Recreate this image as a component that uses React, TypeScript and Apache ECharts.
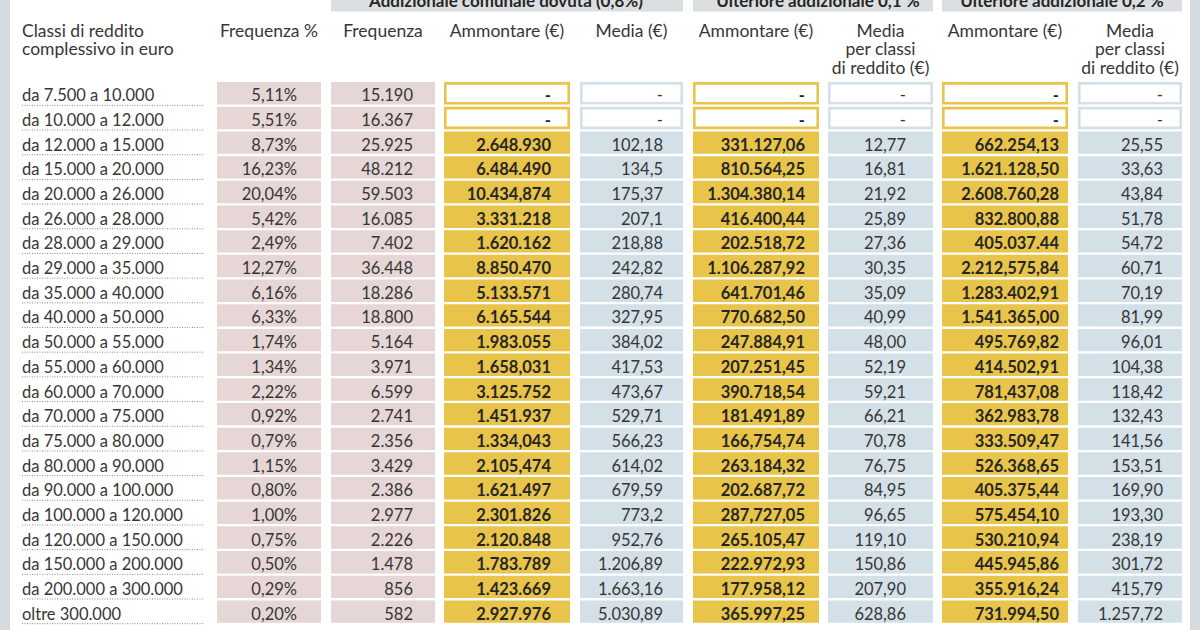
import React, { useEffect, useRef } from "react";
import * as echarts from "echarts";

const classes = [
  "da 7.500 a 10.000", "da 10.000 a 12.000", "da 12.000 a 15.000", "da 15.000 a 20.000",
  "da 20.000 a 26.000", "da 26.000 a 28.000", "da 28.000 a 29.000", "da 29.000 a 35.000",
  "da 35.000 a 40.000", "da 40.000 a 50.000", "da 50.000 a 55.000", "da 55.000 a 60.000",
  "da 60.000 a 70.000", "da 70.000 a 75.000", "da 75.000 a 80.000", "da 80.000 a 90.000",
  "da 90.000 a 100.000", "da 100.000 a 120.000", "da 120.000 a 150.000", "da 150.000 a 200.000",
  "da 200.000 a 300.000", "oltre 300.000",
];
const freqPct = ["5,11%", "5,51%", "8,73%", "16,23%", "20,04%", "5,42%", "2,49%", "12,27%", "6,16%", "6,33%", "1,74%", "1,34%", "2,22%", "0,92%", "0,79%", "1,15%", "0,80%", "1,00%", "0,75%", "0,50%", "0,29%", "0,20%"];
const freq = ["15.190", "16.367", "25.925", "48.212", "59.503", "16.085", "7.402", "36.448", "18.286", "18.800", "5.164", "3.971", "6.599", "2.741", "2.356", "3.429", "2.386", "2.977", "2.226", "1.478", "856", "582"];
const amm08 = ["-", "-", "2.648.930", "6.484.490", "10.434,874", "3.331.218", "1.620.162", "8.850.470", "5.133.571", "6.165.544", "1.983.055", "1.658,031", "3.125.752", "1.451.937", "1.334,043", "2.105,474", "1.621.497", "2.301.826", "2.120.848", "1.783.789", "1.423.669", "2.927.976"];
const media08 = ["-", "-", "102,18", "134,5", "175,37", "207,1", "218,88", "242,82", "280,74", "327,95", "384,02", "417,53", "473,67", "529,71", "566,23", "614,02", "679,59", "773,2", "952,76", "1.206,89", "1.663,16", "5.030,89"];
const amm01 = ["-", "-", "331.127,06", "810.564,25", "1.304.380,14", "416.400,44", "202.518,72", "1.106.287,92", "641.701,46", "770.682,50", "247.884,91", "207.251,45", "390.718,54", "181.491,89", "166,754,74", "263.184,32", "202.687,72", "287,727,05", "265.105,47", "222.972,93", "177.958,12", "365.997,25"];
const media01 = ["-", "-", "12,77", "16,81", "21,92", "25,89", "27,36", "30,35", "35,09", "40,99", "48,00", "52,19", "59,21", "66,21", "70,78", "76,75", "84,95", "96,65", "119,10", "150,86", "207,90", "628,86"];
const amm02 = ["-", "-", "662.254,13", "1.621.128,50", "2.608.760,28", "832.800,88", "405.037.44", "2.212,575,84", "1.283.402,91", "1.541.365,00", "495.769,82", "414.502,91", "781,437,08", "362.983,78", "333.509,47", "526.368,65", "405.375,44", "575.454,10", "530.210,94", "445.945,86", "355.916,24", "731.994,50"];
const media02 = ["-", "-", "25,55", "33,63", "43,84", "51,78", "54,72", "60,71", "70,19", "81,99", "96,01", "104,38", "118,42", "132,43", "141,56", "153,51", "169,90", "193,30", "238,19", "301,72", "415,79", "1.257,72"];

const headerLabel = ["Classi di reddito", "complessivo in euro"];
const columnHeaders = [
  ["Frequenza %"],
  ["Frequenza"],
  ["Ammontare (€)"],
  ["Media (€)"],
  ["Ammontare (€)"],
  ["Media", "per classi", "di reddito (€)"],
  ["Ammontare (€)"],
  ["Media", "per classi", "di reddito (€)"],
];
const groupHeaders = ["Addizionale comunale dovuta (0,8%)", "Ulteriore addizionale 0,1 %", "Ulteriore addizionale 0,2 %"];

// layout / style
const FONT = "Lato, 'Open Sans', sans-serif";
const TEXT = "#363636";
const PINK = "#e6d6d6";
const YELLOW = "#e8c44a";
const BLUE = "#d4e0e8";
const STRIP = "#d5dbdf";
const HEAD = "#dcdfe1";
const DATA_SIZE = 16.5;
const HEAD_SIZE = 17.5;
const HEAD_LINE = 18.5;
const HEAD_FIRST_Y = 30;

const columns = [
  { values: freqPct, x0: 217, x1: 321, tx: 297, fill: PINK, bold: false },
  { values: freq, x0: 331, x1: 435, tx: 413, fill: PINK, bold: false },
  { values: amm08, x0: 444, x1: 570, tx: 551, fill: YELLOW, bold: true },
  { values: media08, x0: 580, x1: 683, tx: 663, fill: BLUE, bold: false },
  { values: amm01, x0: 693, x1: 819, tx: 805, fill: YELLOW, bold: true },
  { values: media01, x0: 828, x1: 933, tx: 906, fill: BLUE, bold: false },
  { values: amm02, x0: 942, x1: 1068, tx: 1059, fill: YELLOW, bold: true },
  { values: media02, x0: 1078, x1: 1182, tx: 1163, fill: BLUE, bold: false },
];
const groups = [
  { x0: 331, x1: 683, cx: 506 },
  { x0: 693, x1: 933, cx: 818 },
  { x0: 942, x1: 1182, cx: 1062 },
];

export default function App() {
  const ref = useRef<HTMLDivElement>(null);
  useEffect(() => {
    if (!ref.current) return;
    const chart = echarts.init(ref.current, null, { renderer: "svg" });

    const colSeries = columns.map((col) => ({
      type: "custom",
      data: col.values.map((_, i) => [col.x0, i]),
      renderItem: (params: any, api: any) => {
        const row = api.value(1);
        const [xl, yc] = api.coord([col.x0, row]);
        const [xr] = api.coord([col.x1, row]);
        const [xt] = api.coord([col.tx, row]);
        const band = api.size([0, 1])[1];
        const top = yc - band / 2 + 0.6;
        const h = band - 2.3;
        const txt = col.values[params.dataIndex];
        const empty = txt === "-";
        const inset = empty && col.fill !== PINK ? 1.3 : 0;
        return {
          type: "group",
          children: [
            {
              type: "rect",
              shape: { x: xl + inset, y: top + inset, width: xr - xl - 2 * inset, height: h - 2 * inset },
              style: empty && col.fill !== PINK
                ? { fill: "#ffffff", stroke: col.fill, lineWidth: 2.6 }
                : { fill: col.fill },
            },
            {
              type: "text",
              style: {
                text: txt,
                x: xt,
                y: yc + 1.5,
                align: "right",
                verticalAlign: "middle",
                fill: col.bold ? "#262626" : TEXT,
                font: `${col.bold ? "bold " : ""}${DATA_SIZE}px ${FONT}`,
              },
            },
          ],
        };
      },
    }));

    const labelSeries = {
      type: "custom",
      data: classes.map((_, i) => [22, i]),
      renderItem: (params: any, api: any) => {
        const row = api.value(1);
        const [xl, yc] = api.coord([22, row]);
        const [xr] = api.coord([203, row]);
        const band = api.size([0, 1])[1];
        const bottom = yc + band / 2 - 0.8;
        return {
          type: "group",
          children: [
            {
              type: "line",
              shape: { x1: xl, y1: bottom, x2: xr, y2: bottom },
              style: { stroke: "#8c8c8c", lineWidth: 1, lineDash: [1, 1.5] },
            },
            {
              type: "text",
              style: {
                text: classes[params.dataIndex],
                x: xl,
                y: yc + 1.5,
                align: "left",
                verticalAlign: "middle",
                fill: TEXT,
                font: `${DATA_SIZE}px ${FONT}`,
              },
            },
          ],
        };
      },
    };

    const graphics: any[] = [
      { type: "rect", shape: { x: 0, y: 0, width: 10, height: 630 }, style: { fill: STRIP } },
      { type: "rect", shape: { x: 1190, y: 0, width: 10, height: 630 }, style: { fill: STRIP } },
    ];
    groups.forEach((g, i) => {
      graphics.push({ type: "rect", shape: { x: g.x0, y: 0, width: g.x1 - g.x0, height: 11.5 }, style: { fill: HEAD } });
      graphics.push({
        type: "text",
        style: {
          text: groupHeaders[i],
          x: g.cx,
          y: 8.5,
          align: "center",
          verticalAlign: "bottom",
          fill: "#262626",
          font: `bold 17px ${FONT}`,
        },
      });
    });
    graphics.push({
      type: "text",
      style: {
        text: headerLabel.join("\n"),
        x: 22,
        y: HEAD_FIRST_Y - HEAD_LINE / 2,
        align: "left",
        verticalAlign: "top",
        lineHeight: HEAD_LINE,
        fill: TEXT,
        font: `${HEAD_SIZE}px ${FONT}`,
      },
    });
    columnHeaders.forEach((lines, i) => {
      const c = columns[i];
      graphics.push({
        type: "text",
        style: {
          text: lines.join("\n"),
          x: (c.x0 + c.x1) / 2,
          y: HEAD_FIRST_Y - HEAD_LINE / 2,
          align: "center",
          verticalAlign: "top",
          lineHeight: HEAD_LINE,
          fill: TEXT,
          font: `${HEAD_SIZE}px ${FONT}`,
        },
      });
    });

    chart.setOption({
      animation: false,
      backgroundColor: "#ffffff",
      grid: { left: 0, right: 0, top: 81.5, height: 543 },
      xAxis: { type: "value", min: 0, max: 1200, show: false },
      yAxis: { type: "category", data: classes, inverse: true, show: false },
      graphic: graphics,
      series: [labelSeries, ...colSeries],
    });
    return () => chart.dispose();
  }, []);
  return <div ref={ref} style={{ position: "absolute", left: 0, top: 0, width: 1200, height: 630 }} />;
}
